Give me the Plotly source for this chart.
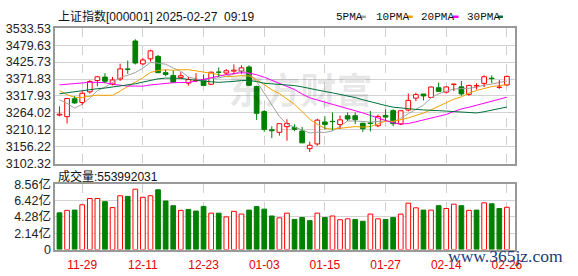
import plotly.graph_objects as go
import pandas as pd

# ---------------- data ----------------
dates = ["11-26", "11-27", "11-28", "11-29", "12-02", "12-03", "12-04", "12-05", "12-06", "12-09",
         "12-10", "12-11", "12-12", "12-13", "12-16", "12-17", "12-18", "12-19", "12-20", "12-23",
         "12-24", "12-25", "12-26", "12-27", "12-30", "12-31", "01-02", "01-03", "01-06", "01-07",
         "01-08", "01-09", "01-10", "01-13", "01-14", "01-15", "01-16", "01-17", "01-20", "01-21",
         "01-22", "01-23", "01-24", "01-27", "02-05", "02-06", "02-07", "02-10", "02-11", "02-12",
         "02-13", "02-14", "02-17", "02-18", "02-19", "02-20", "02-21", "02-24", "02-25", "02-26"]

opens = [3257.0, 3252.0, 3309.0, 3297.0, 3331.0, 3367.0, 3378.0, 3356.0, 3372.0, 3404.0,
         3493.0, 3420.0, 3436.0, 3444.0, 3392.0, 3383.0, 3377.0, 3359.0, 3366.0, 3370.0,
         3355.0, 3394.0, 3391.0, 3397.0, 3397.0, 3410.0, 3348.0, 3268.0, 3210.0, 3202.0,
         3220.0, 3218.0, 3206.0, 3150.0, 3165.0, 3235.0, 3237.0, 3227.0, 3255.0, 3255.0,
         3231.0, 3232.0, 3223.0, 3256.0, 3271.0, 3229.0, 3273.0, 3311.0, 3324.0, 3313.0,
         3344.0, 3330.0, 3354.5, 3347.0, 3323.0, 3349.5, 3358.0, 3374.5, 3345.0, 3353.0]
highs = [3285.0, 3311.0, 3317.0, 3334.0, 3368.5, 3381.5, 3390.5, 3378.5, 3420.5, 3430.5,
         3498.5, 3439.5, 3465.5, 3448.0, 3401.5, 3398.5, 3393.5, 3378.5, 3390.5, 3386.5,
         3395.5, 3408.5, 3403.5, 3418.5, 3415.5, 3415.5, 3351.0, 3273.5, 3221.5, 3230.0,
         3243.5, 3227.5, 3219.5, 3172.5, 3245.5, 3253.5, 3265.5, 3255.5, 3265.5, 3265.5,
         3232.0, 3270.0, 3258.5, 3275.5, 3275.5, 3273.0, 3325.5, 3328.5, 3324.5, 3348.0,
         3360.5, 3348.0, 3356.5, 3365.5, 3353.5, 3358.5, 3383.5, 3383.5, 3368.5, 3383.0]
lows = [3253.0, 3230.0, 3293.0, 3290.0, 3325.5, 3348.5, 3358.5, 3351.5, 3365.5, 3388.5,
        3418.0, 3415.5, 3427.5, 3391.5, 3380.5, 3360.5, 3373.5, 3350.5, 3362.0, 3351.0,
        3353.5, 3378.5, 3385.5, 3388.5, 3388.5, 3350.0, 3241.5, 3203.5, 3183.5, 3191.5,
        3175.5, 3205.5, 3168.0, 3139.5, 3159.5, 3211.5, 3208.5, 3213.5, 3238.5, 3228.5,
        3203.5, 3205.0, 3218.5, 3238.5, 3221.5, 3225.0, 3268.5, 3301.5, 3303.5, 3312.0,
        3332.0, 3325.5, 3333.5, 3318.5, 3318.5, 3338.5, 3346.5, 3358.5, 3340.5, 3350.0]
closes = [3259.8, 3309.8, 3295.7, 3326.5, 3364.0, 3378.8, 3364.7, 3368.9, 3404.1, 3402.5,
          3422.7, 3432.5, 3461.5, 3391.9, 3386.3, 3361.5, 3382.2, 3370.0, 3368.1, 3351.3,
          3393.5, 3393.4, 3398.1, 3400.1, 3407.3, 3351.8, 3262.6, 3211.4, 3206.9, 3229.6,
          3230.2, 3211.4, 3168.5, 3160.8, 3240.9, 3227.1, 3236.0, 3241.8, 3244.4, 3242.6,
          3213.6, 3230.2, 3252.6, 3250.6, 3229.5, 3270.7, 3303.7, 3322.2, 3318.1, 3346.4,
          3332.5, 3346.7, 3355.8, 3324.5, 3351.5, 3350.8, 3379.1, 3373.0, 3346.0, 3380.2]
# volume in 亿
volumes = [4.81, 5.14, 5.17, 5.87, 6.69, 6.69, 6.28, 5.50, 7.05, 6.97,
           7.91, 6.85, 7.05, 7.83, 6.36, 5.75, 5.14, 5.26, 5.05, 5.66,
           4.77, 4.77, 4.28, 5.01, 4.65, 5.17, 5.63, 5.30, 4.40, 4.16,
           4.77, 3.95, 4.20, 3.79, 4.77, 4.20, 4.40, 3.91, 4.03, 3.95,
           3.71, 4.65, 4.03, 3.95, 4.20, 4.65, 6.08, 5.47, 5.17, 5.17,
           5.75, 5.38, 5.95, 5.75, 5.14, 5.17, 6.12, 6.00, 5.38, 5.54]
# closes of the 29 sessions before the first visible one (warm-up for the moving averages)
prior_closes = [3202.95, 3169.38, 3261.56, 3268.11, 3285.87, 3302.80, 3280.26, 3299.70, 3322.20, 3286.41,
                3266.24, 3279.82, 3272.01, 3310.21, 3386.99, 3383.81, 3470.66, 3452.30, 3470.07, 3421.97,
                3439.28, 3379.84, 3330.73, 3323.85, 3346.01, 3367.99, 3370.40, 3267.19, 3263.76]

price_ticks = [3102.32, 3156.22, 3210.12, 3264.02, 3317.93, 3371.83, 3425.73, 3479.63, 3533.53]
price_tick_text = ["3102.32", "3156.22", "3210.12", "3264.02", "3317.93", "3371.83", "3425.73", "3479.63", "3533.53"]
vol_ticks = [0, 2.14, 4.28, 6.42, 8.56]
vol_tick_text = ["0", "2.14亿", "4.28亿", "6.42亿", "8.56亿"]
x_tick_dates = ["11-29", "12-11", "12-23", "01-03", "01-15", "01-27", "02-14", "02-26"]

ma_periods = [5, 10, 20, 30]
ma_names = ["5PMA", "10PMA", "20PMA", "30PMA"]
ma_colors = ["#a0a0a0", "#f5a000", "#ff00ff", "#00703a"]

title_text = "上证指数[000001] 2025-02-27\u00a0\u00a009:19"
volume_text = "成交量:553992031"

# ---------------- derived ----------------
n = len(dates)
idx = list(range(n))
RED = "#ff0000"
GREEN = "#008000"
W, H = 578, 276


def px(x):
    return x / W


def py(y):
    return 1 - y / H


all_closes = pd.Series(prior_closes + closes)
mas = [all_closes.rolling(p).mean().tolist()[-n:] for p in ma_periods]

prev_close = [prior_closes[-1]] + closes[:-1]
vol_up = [c >= p for c, p in zip(closes, prev_close)]
candle_up = [c >= o for c, o in zip(closes, opens)]

fig = go.Figure()

# watermark (behind the MA lines)
fig.add_trace(go.Scatter(x=[31.8], y=[3321], mode="text", text=["东方财富"],
                         textfont=dict(size=36, color="rgba(0,0,0,0.10)", family="Noto Sans CJK SC", weight="bold"),
                         hoverinfo="skip", showlegend=False, xaxis="x", yaxis="y"))

# MA lines
for m, col in zip(mas, ma_colors):
    fig.add_trace(go.Scatter(x=idx, y=m, mode="lines", line=dict(color=col, width=1),
                             hoverinfo="skip", showlegend=False, xaxis="x", yaxis="y"))

# candle wicks
for up_flag, col in [(True, RED), (False, GREEN)]:
    wx, wy = [], []
    for i in idx:
        if candle_up[i] != up_flag:
            continue
        top = max(opens[i], closes[i])
        bot = min(opens[i], closes[i])
        wx += [i, i, None, i, i, None]
        wy += [highs[i], top, None, bot, lows[i], None]
    fig.add_trace(go.Scatter(x=wx, y=wy, mode="lines", line=dict(color=col, width=1),
                             hoverinfo="skip", showlegend=False, xaxis="x", yaxis="y"))

# candle bodies
for up_flag, fill, col in [(True, "white", RED), (False, GREEN, GREEN)]:
    bx = [i for i in idx if candle_up[i] == up_flag]
    fig.add_trace(go.Bar(x=bx,
                         y=[max(abs(closes[i] - opens[i]), 0.3) for i in bx],
                         base=[min(closes[i], opens[i]) for i in bx],
                         width=0.62, marker=dict(color=fill, line=dict(color=col, width=1)),
                         hoverinfo="skip", showlegend=False, xaxis="x", yaxis="y"))

# volume bars
for up_flag, fill, col in [(True, "white", RED), (False, GREEN, GREEN)]:
    bx = [i for i in idx if vol_up[i] == up_flag]
    fig.add_trace(go.Bar(x=bx, y=[volumes[i] for i in bx], width=0.62,
                         marker=dict(color=fill, line=dict(color=col, width=1)),
                         hoverinfo="skip", showlegend=False, xaxis="x2", yaxis="y2"))

xr = [-0.56, 60.04]
tick_pos = [dates.index(d) for d in x_tick_dates]
x_left, x_right = 56, 522
p_top, p_bot = 21.3, 164.7
v_top, v_bot = 186.3, 255.5

axis_common = dict(showline=True, mirror=True, linecolor="#999999", linewidth=1.5, zeroline=False,
                   ticks="", fixedrange=True)

fig.update_layout(
    width=W, height=H, margin=dict(l=0, r=0, t=0, b=0),
    paper_bgcolor="white", plot_bgcolor="white", barmode="overlay", showlegend=False,
    xaxis=dict(domain=[px(x_left), px(x_right)], range=xr, anchor="y", tickvals=tick_pos,
               showticklabels=False, showgrid=True, gridcolor="#cfcfcf", griddash="dash", gridwidth=1,
               **axis_common),
    yaxis=dict(domain=[py(p_bot), py(p_top)], range=[3102.0, 3533.85], anchor="x",
               tickvals=price_ticks, ticktext=price_tick_text, showgrid=True, gridcolor="#d2d2d2",
               tickfont=dict(family="Liberation Sans, Arial", size=12.5, color="#222222"),
               **axis_common),
    xaxis2=dict(domain=[px(x_left), px(x_right)], range=xr, anchor="y2", matches="x",
                tickvals=tick_pos, ticktext=x_tick_dates, showgrid=True, gridcolor="#cfcfcf",
                griddash="dash", gridwidth=1, ticklabelstandoff=3,
                tickfont=dict(family="Liberation Sans, Arial", size=12, color="#e60000"),
                **axis_common),
    yaxis2=dict(domain=[py(v_bot), py(v_top)], range=[0, 8.565], anchor="x2",
                tickvals=vol_ticks, ticktext=vol_tick_text, showgrid=True, gridcolor="#d2d2d2",
                tickfont=dict(family="Liberation Sans, Noto Sans CJK SC", size=12.5, color="#222222"),
                **axis_common),
)

annotations = [
    dict(x=px(57), y=py(9.2), xref="paper", yref="paper", text=title_text, showarrow=False,
         xanchor="left", yanchor="middle",
         font=dict(family="Liberation Sans, Noto Sans CJK SC", size=12, color="#111111")),
    dict(x=px(57), y=py(178), xref="paper", yref="paper", text=volume_text, showarrow=False,
         xanchor="left", yanchor="middle",
         font=dict(family="Liberation Sans, Noto Sans CJK SC", size=12, color="#111111")),
    dict(x=px(513), y=py(262), xref="paper", yref="paper", text="www.365jz.com", showarrow=False,
         xanchor="center", yanchor="middle",
         font=dict(family="Liberation Serif", size=17.5, color="#1c3c78")),
]

legend_text_x = [338.5, 379.5, 425.3, 471.3]
legend_dash_x = [(365, 371), (412.5, 418.5), (459, 465), (504.7, 510)]
shapes = []
for name, col, tx, (d0, d1) in zip(ma_names, ma_colors, legend_text_x, legend_dash_x):
    annotations.append(dict(x=px(tx), y=py(9), xref="paper", yref="paper", text=name, showarrow=False,
                            xanchor="left", yanchor="middle",
                            font=dict(family="Liberation Mono", size=11, color="#111111")))
    shapes.append(dict(type="line", xref="paper", yref="paper", x0=px(d0), x1=px(d1),
                       y0=py(9.3), y1=py(9.3), line=dict(color=col, width=2.5)))

fig.update_layout(annotations=annotations, shapes=shapes)

fig.write_html("out.html")
